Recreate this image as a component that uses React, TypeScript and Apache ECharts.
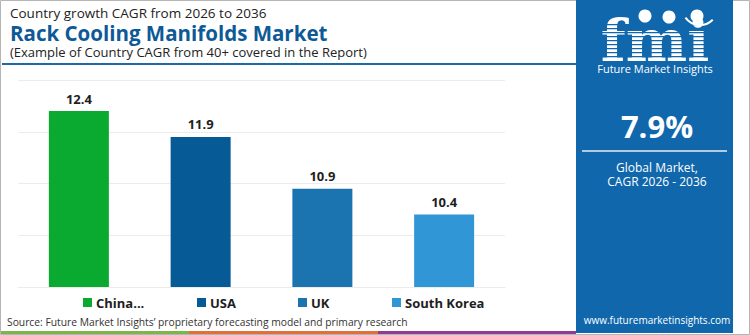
import React, { useEffect, useRef } from "react";
import * as echarts from "echarts";

const categories = ["China...", "USA", "UK", "South Korea"];
const values = [12.4, 11.9, 10.9, 10.4];
const barColors = ["#0aa92f", "#065a96", "#1b74b0", "#3196d6"];
const legendLefts = [78, 192, 293, 387];
const yMin = 9;
const yMax = 13;
const yInterval = 1;

const FONT = "'Open Sans', 'Noto Sans', sans-serif";
const PANEL = "#1067ac";

export default function App() {
  const ref = useRef<HTMLDivElement>(null);
  useEffect(() => {
    if (!ref.current) return;
    const chart = echarts.init(ref.current, undefined, { renderer: "svg" });

    const series = categories.map((name, i) => ({
      name,
      type: "bar",
      barWidth: 60,
      barGap: "-100%",
      itemStyle: { color: barColors[i] },
      label: {
        show: true,
        position: "top",
        distance: 6,
        fontFamily: FONT,
        fontWeight: "bold",
        fontSize: 13,
        color: "#1e1e1e",
        formatter: (p: any) => Number(p.value).toFixed(1),
      },
      data: categories.map((_, j) => (j === i ? values[i] : "-")),
    }));

    const legends = categories.map((name, i) => ({
      data: [name],
      left: legendLefts[i],
      top: 291,
      icon: "rect",
      itemWidth: 9,
      itemHeight: 9,
      itemGap: 0,
      selectedMode: false,
      textStyle: {
        fontFamily: FONT,
        fontWeight: "bold",
        fontSize: 13,
        color: "#1e1e1e",
        padding: [0, 0, 0, -1],
      },
    }));

    // fmi logo stripes
    const stripes: any[] = [];
    for (let y = 24; y <= 58; y += 4) {
      stripes.push({
        type: "rect",
        shape: { x: 594, y, width: 122, height: 1.3 },
        style: { fill: PANEL },
        z: 12,
      });
    }

    const centerText = (text: string, x: number, y: number, font: string, fill: string, z = 13) => ({
      type: "text",
      x,
      y,
      style: { text, font, fill, align: "center", verticalAlign: "middle" },
      z,
    });

    chart.setOption({
      animation: false,
      backgroundColor: "#ffffff",
      grid: { left: 18, right: 245, top: 80, bottom: 48, containLabel: false },
      xAxis: {
        type: "category",
        data: categories,
        axisLabel: { show: false },
        axisTick: { show: false },
        axisLine: { show: true, lineStyle: { color: "#ececec" } },
      },
      yAxis: {
        type: "value",
        min: yMin,
        max: yMax,
        interval: yInterval,
        axisLabel: { show: false },
        axisLine: { show: false },
        axisTick: { show: false },
        splitLine: { lineStyle: { color: "#ececec" } },
      },
      legend: legends,
      series,
      graphic: [
        {
          type: "rect",
          shape: { x: 0.5, y: 0.5, width: 749, height: 334 },
          style: { fill: "none", stroke: "#b5b5b5", lineWidth: 1 },
          z: 1,
        },
        {
          type: "text",
          x: 10,
          y: 4,
          style: {
            text:
              "{a|Country growth CAGR from 2026 to 2036}\n{b|Rack Cooling Manifolds Market}\n{c|(Example of Country CAGR from 40+ covered in the Report)}",
            align: "left",
            verticalAlign: "top",
            rich: {
              a: { fontSize: 13.5, fontFamily: FONT, fill: "#222", lineHeight: 18 },
              b: { fontSize: 20.5, fontFamily: FONT, fontWeight: "bold", fill: "#0d5a97", lineHeight: 22 },
              c: { fontSize: 13, fontFamily: FONT, fill: "#222", lineHeight: 16 },
            },
          },
        },
        {
          type: "line",
          shape: { x1: 2, y1: 64, x2: 577, y2: 64 },
          style: { stroke: "#1f6aa5", lineWidth: 2 },
        },
        {
          type: "text",
          x: 7,
          y: 322,
          style: {
            text: "Source: Future Market Insights’ proprietary forecasting model and primary research",
            font: `10.3px ${FONT}`,
            fill: "#333",
            align: "left",
            verticalAlign: "middle",
          },
        },
        { type: "rect", shape: { x: 1, y: 331, width: 188, height: 3 }, style: { fill: "#7ab648" } },
        { type: "rect", shape: { x: 189, y: 331, width: 189, height: 3 }, style: { fill: "#e0703a" } },
        { type: "rect", shape: { x: 378, y: 331, width: 198, height: 3 }, style: { fill: "#8e3d97" } },
        // right panel
        {
          type: "rect",
          shape: { x: 576, y: 0, width: 157, height: 333 },
          style: { fill: PANEL },
          z: 10,
        },
        {
          type: "text",
          x: 655,
          y: 20,
          z: 11,
          style: {
            text: "{a|fmi}\n{b|Future Market Insights}",
            align: "center",
            verticalAlign: "top",
            rich: {
              a: { fontSize: 58, fontFamily: "'DejaVu Serif', serif", fontWeight: "bold", fill: "#fff", lineHeight: 42, align: "center" },
              b: { fontSize: 11, fontFamily: FONT, fill: "#fff", lineHeight: 12, align: "center" },
            },
          },
        },
        ...stripes,
        { type: "circle", shape: { cx: 645, cy: 16, r: 6.5 }, style: { fill: "#fff" }, z: 13 },
        { type: "circle", shape: { cx: 669, cy: 17, r: 6.5 }, style: { fill: "#fff" }, z: 13 },
        { type: "circle", shape: { cx: 697, cy: 16, r: 6.5 }, style: { fill: "#fff" }, z: 13 },
        {
          type: "arc",
          shape: { cx: 700, cy: 7, r: 18, startAngle: Math.PI * 0.25, endAngle: Math.PI * 0.8 },
          style: { stroke: "#fff", lineWidth: 2, fill: "none" },
          z: 13,
        },
        centerText("7.9%", 657, 126, `bold 31px ${FONT}`, "#ffffff"),
        {
          type: "line",
          shape: { x1: 582, y1: 151, x2: 727, y2: 151 },
          style: { stroke: "#e6eef6", lineWidth: 1.5 },
          z: 13,
        },
        {
          type: "text",
          x: 657,
          y: 160,
          z: 13,
          style: {
            text: "Global Market,\nCAGR 2026 - 2036",
            font: `12px ${FONT}`,
            fill: "#fff",
            lineHeight: 14,
            align: "center",
            verticalAlign: "top",
          },
        },
        centerText("www.futuremarketinsights.com", 657, 320, `10px ${FONT}`, "#ffffff"),
      ],
    });
    return () => chart.dispose();
  }, []);
  return (
    <div
      ref={ref}
      style={{ position: "fixed", left: 0, top: 0, width: 750, height: 335 }}
    />
  );
}
